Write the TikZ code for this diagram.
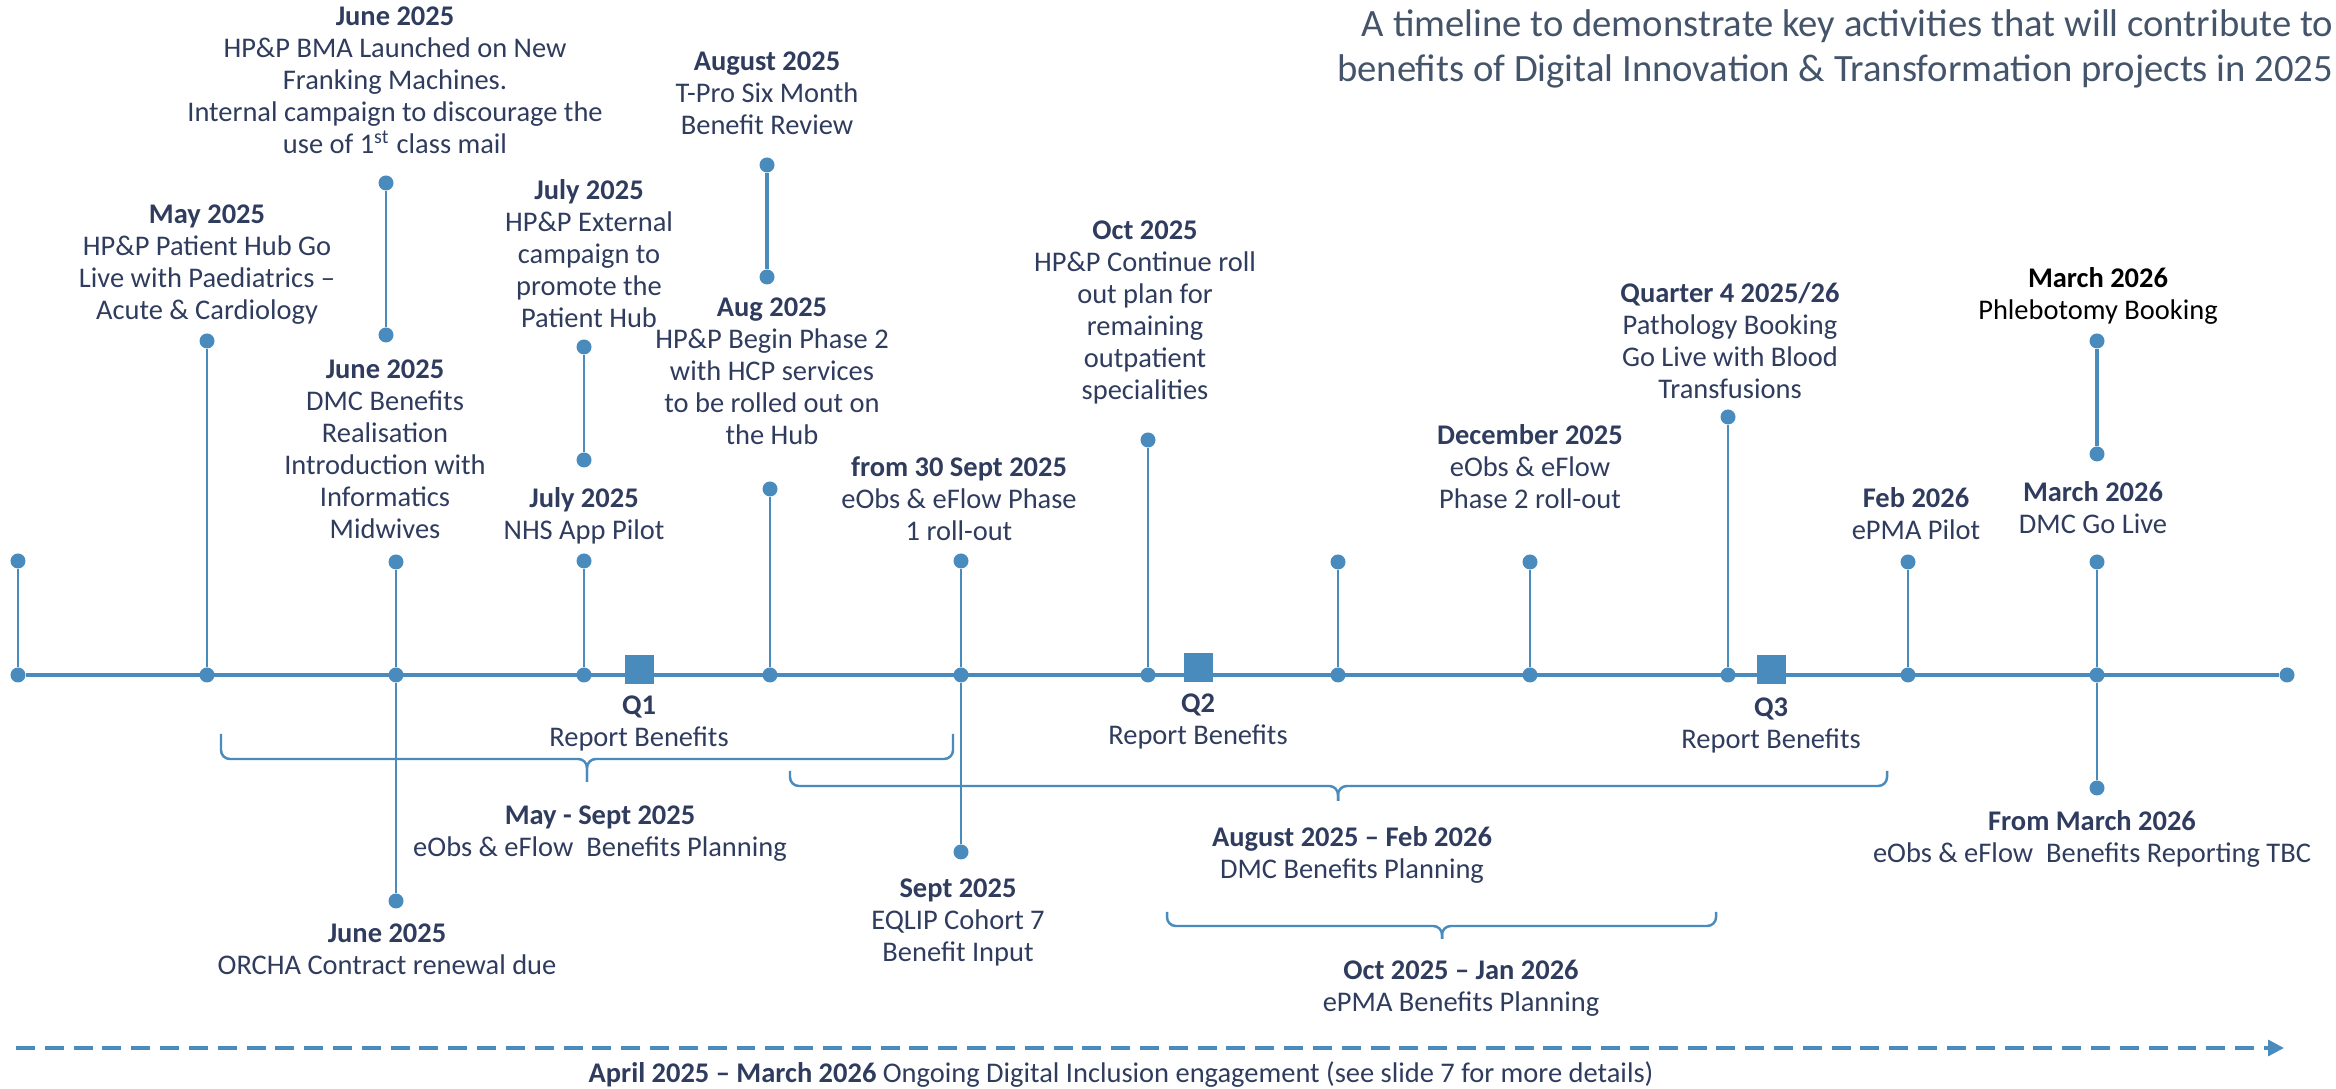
\documentclass[tikz,border=0pt]{standalone}
\usepackage{fontspec}
\setmainfont{Carlito}
\usetikzlibrary{arrows.meta,positioning}
\definecolor{tl}{HTML}{4A8BBE}
\definecolor{ink}{HTML}{2F3C5E}
\definecolor{ttl}{HTML}{44546A}
\tikzset{
  dot/.style={circle,fill=tl,inner sep=0pt,minimum size=0.15cm},
  stem/.style={tl,line width=0.7pt},
  stemb/.style={tl,line width=1.2pt},
  axis/.style={tl,line width=0.9pt},
  qbox/.style={rectangle,fill=tl,inner sep=0pt,minimum size=0.29cm},
  ev/.style={align=center,anchor=north,inner sep=0pt,text=ink,font=\fontsize{8.1}{9.1}\selectfont},
  brc/.style={tl,line width=0.7pt,rounded corners=2.5pt},
  incl/.style={tl,line width=0.9pt,dash pattern=on 5.4pt off 2.8pt,-{Triangle[length=4.5pt,width=4.5pt]}},
  head/.style={align=right,anchor=north east,inner sep=0pt,text=ttl,font=\fontsize{11}{12.8}\selectfont}
}
\newcommand{\evt}[2]{\textbf{#1}\\#2}
% brace: left x, right x, tip x, top y, flat y, tip y
\newcommand{\tlbrace}[6]{%
  \draw[brc] (#1,#4) -- (#1,#5) -- (#3,#5) -- (#3,#6);
  \draw[brc] (#2,#4) -- (#2,#5) -- (#3,#5) -- (#3,#6);}

\begin{document}
\begin{tikzpicture}[x=1cm,y=1cm]
\useasboundingbox (0,0) rectangle (23.36,10.89);
% ===================== title =====================
\node[head] (title) at (23.34,10.80) {A timeline to demonstrate key activities that will contribute to\\ benefits of Digital Innovation \& Transformation projects in 2025};
% ===================== the axis =====================
% month ticks: name/x/height of the top dot
\foreach \n/\x/\t in {s/0.18/5.28, may/2.07/7.48, jun/3.96/5.27, jul/5.84/5.28, aug/7.70/6.00, sep/9.61/5.28, oct/11.48/6.49, nov/13.38/5.27, dec/15.30/5.27, qf/17.28/6.72, feb/19.08/5.27, mar/20.97/5.27}{
  \node[dot] (a\n) at (\x,4.14) {};
  \node[dot] (t\n) at (\x,\t) {};
  \draw[stem] (a\n) -- (t\n);
}
\node[dot] (aend) at (22.87,4.14) {};
\draw[axis] (as) -- (aend);
% ticks running below the axis
\node[dot] (bjun) at (3.96,1.88) {};\draw[stem] (ajun) -- (bjun);
\node[dot] (bsep) at (9.61,2.37) {};\draw[stem] (asep) -- (bsep);
\node[dot] (bmar) at (20.97,3.01) {};\draw[stem] (amar) -- (bmar);
% free standing markers
\node[dot] (bma1) at (3.86,9.06) {};\node[dot] (bma2) at (3.86,7.54) {};\draw[stem] (bma1) -- (bma2);
\node[dot] (ext1) at (5.84,7.42) {};\node[dot] (ext2) at (5.84,6.29) {};\draw[stem] (ext1) -- (ext2);
\node[dot] (tpro1) at (7.67,9.24) {};\node[dot] (tpro2) at (7.67,8.12) {};\draw[stemb] (tpro1) -- (tpro2);
\node[dot] (phl1) at (20.97,7.48) {};\node[dot] (phl2) at (20.97,6.35) {};\draw[stemb] (phl1) -- (phl2);
% quarterly reports
\node[qbox] (q1) at (6.39,4.19) {};
\node[qbox] (q2) at (11.98,4.21) {};
\node[qbox] (q3) at (17.71,4.19) {};
\node[ev,below=0.1cm of q1] (q1lab) {\evt{Q1}{Report Benefits}};
\node[ev,below=0.1cm of q2] (q2lab) {\evt{Q2}{Report Benefits}};
\node[ev,below=0.12cm of q3] (q3lab) {\evt{Q3}{Report Benefits}};
% ===================== events above the axis =====================
\node[ev] (bma) at (3.95,10.83) {\evt{June 2025}{HP\&P BMA Launched on New\\ Franking Machines.\\ Internal campaign to discourage the\\ use of 1\textsuperscript{st} class mail}};
\node[ev] (hub) at (2.07,8.85) {\evt{May 2025}{HP\&P Patient Hub Go\\ Live with Paediatrics --\\ Acute \& Cardiology}};
\node[ev] (ext) at (5.89,9.10) {\evt{July 2025}{HP\&P External\\ campaign to\\ promote the\\ Patient Hub}};
\node[ev] (dmcb) at (3.85,7.30) {\evt{June 2025}{DMC Benefits\\ Realisation\\ Introduction with\\ Informatics\\ Midwives}};
\node[ev] (nhs) at (5.84,6.02) {\evt{July 2025}{NHS App Pilot}};
\node[ev] (tpro) at (7.67,10.38) {\evt{August 2025}{T-Pro Six Month\\ Benefit Review}};
\node[ev] (ph2) at (7.72,7.92) {\evt{Aug 2025}{HP\&P Begin Phase 2\\ with HCP services\\ to be rolled out on\\ the Hub}};
\node[ev] (eobs1) at (9.59,6.33) {\evt{from 30 Sept 2025}{eObs \& eFlow Phase\\ 1 roll-out}};
\node[ev] (roll) at (11.45,8.69) {\evt{Oct 2025}{HP\&P Continue roll\\ out plan for\\ remaining\\ outpatient\\ specialities}};
\node[ev] (eobs2) at (15.30,6.65) {\evt{December 2025}{eObs \& eFlow\\ Phase 2 roll-out}};
\node[ev] (path) at (17.30,8.07) {\evt{Quarter 4 2025/26}{Pathology Booking\\ Go Live with Blood\\ Transfusions}};
\node[ev,text=black] (phl) at (20.98,8.22) {\evt{March 2026}{Phlebotomy Booking}};
\node[ev] (epma) at (19.16,6.02) {\evt{Feb 2026}{ePMA Pilot}};
\node[ev] (dmc) at (20.93,6.08) {\evt{March 2026}{DMC Go Live}};
% ===================== below the axis =====================
\tlbrace{2.21}{9.53}{5.87}{3.55}{3.30}{3.07}
\tlbrace{7.90}{18.87}{13.38}{3.18}{3.03}{2.88}
\tlbrace{11.67}{17.16}{14.42}{1.77}{1.63}{1.50}
\node[ev] (plan1) at (6.00,2.84) {\evt{May - Sept 2025}{eObs \& eFlow~ Benefits Planning}};
\node[ev] (orcha) at (3.87,1.66) {\evt{June 2025}{ORCHA Contract renewal due}};
\node[ev] (eqlip) at (9.58,2.11) {\evt{Sept 2025}{EQLIP Cohort 7\\ Benefit Input}};
\node[ev] (plan2) at (13.52,2.63) {\evt{August 2025 -- Feb 2026}{DMC Benefits Planning}};
\node[ev] (plan3) at (14.61,1.30) {\evt{Oct 2025 -- Jan 2026}{ePMA Benefits Planning}};
\node[ev] (rep) at (20.92,2.79) {\evt{From March 2026}{eObs \& eFlow~ Benefits Reporting TBC}};
% ===================== digital inclusion =====================
\coordinate (di0) at (0.16,0.41);
\coordinate (di1) at (22.84,0.41);
\draw[incl] (di0) -- (di1);
\node[ev] (dilab) at (11.21,0.28) {\textbf{April 2025 -- March 2026} Ongoing Digital Inclusion engagement (see slide 7 for more details)};
\end{tikzpicture}
\end{document}
